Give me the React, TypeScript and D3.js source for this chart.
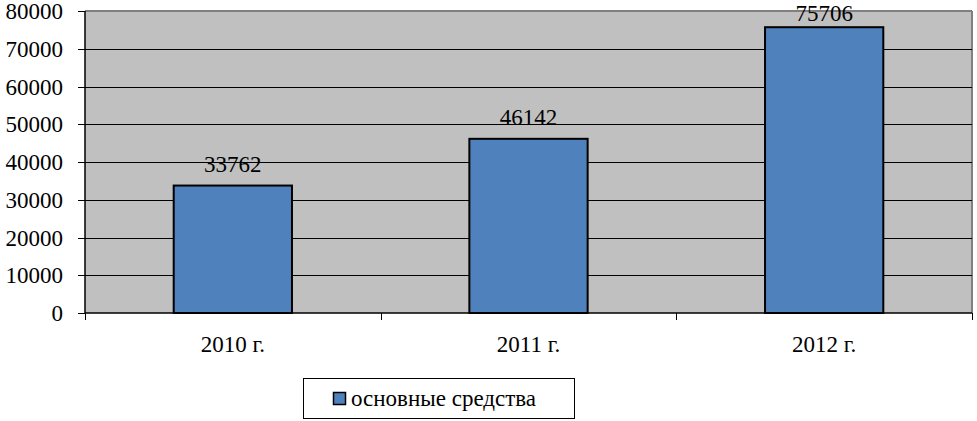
import React from "react";
import * as d3 from "d3";

const categories = ["2010 г.", "2011 г.", "2012 г."];
const values = [33762, 46142, 75706];
const yTicks = [0, 10000, 20000, 30000, 40000, 50000, 60000, 70000, 80000];
const seriesName = "основные средства";

export default function App() {
  const W = 977, H = 421;
  const left = 85, right = 972, top = 11, bottom = 313;
  const x = d3.scaleBand<string>().domain(categories).range([left, right]).paddingInner(0.6).paddingOuter(0.3);
  const xOuter = d3.scaleBand<string>().domain(categories).range([left, right]);
  const y = d3.scaleLinear().domain([0, 80000]).range([bottom, top]);
  const ts = { fontFamily: "'Liberation Serif', 'Times New Roman', 'DejaVu Serif', serif", fontSize: "23px" };
  const catEdges = [left, ...categories.map((c) => (xOuter(c) as number) + xOuter.bandwidth())];
  return (
    <svg width={W} height={H} style={{ position: "absolute", left: 0, top: 0, background: "#fff" }}>
      <rect x={left} y={top} width={right - left} height={bottom - top} fill="#C0C0C0" />
      <line x1={left} x2={right} y1={top} y2={top} stroke="#808080" strokeWidth={2} />
      <line x1={right} x2={right} y1={top} y2={bottom} stroke="#808080" strokeWidth={2} />
      {yTicks.filter((t) => t > 0 && t < 80000).map((t) => (
        <line key={t} x1={left} x2={right} y1={Math.round(y(t)) + 0.5} y2={Math.round(y(t)) + 0.5} stroke="#000" strokeWidth={1} />
      ))}
      {categories.map((c, i) => (
        <g key={c}>
          <rect x={x(c)} y={y(values[i])} width={x.bandwidth()} height={bottom - y(values[i])} fill="#4F81BD" stroke="#000" strokeWidth={2} />
          <text x={(x(c) as number) + x.bandwidth() / 2} y={Math.max(y(values[i]) - 14, 21)} textAnchor="middle" style={ts} fill="#000">{values[i]}</text>
          <text x={(xOuter(c) as number) + xOuter.bandwidth() / 2} y={352} textAnchor="middle" style={ts} fill="#000">{c}</text>
        </g>
      ))}
      <line x1={left} x2={left} y1={top} y2={bottom} stroke="#000" strokeWidth={1.5} />
      <line x1={left} x2={right} y1={bottom} y2={bottom} stroke="#000" strokeWidth={1.5} />
      {yTicks.map((t) => (
        <g key={t}>
          <line x1={78} x2={left} y1={Math.round(y(t)) + 0.5} y2={Math.round(y(t)) + 0.5} stroke="#000" strokeWidth={1} />
          <text x={63} y={y(t)} dy="0.35em" textAnchor="end" style={ts} fill="#000">{t}</text>
        </g>
      ))}
      {catEdges.map((e, i) => (
        <line key={i} x1={Math.round(e) + 0.5} x2={Math.round(e) + 0.5} y1={bottom} y2={320} stroke="#000" strokeWidth={1} />
      ))}
      <rect x={303.5} y={378.5} width={271} height={40} fill="#fff" stroke="#000" strokeWidth={1} />
      <rect x={333.5} y={392.5} width={12} height={12} fill="#4F81BD" stroke="#000" strokeWidth={1.5} />
      <text x={351} y={406} style={ts} fill="#000">{seriesName}</text>
    </svg>
  );
}
